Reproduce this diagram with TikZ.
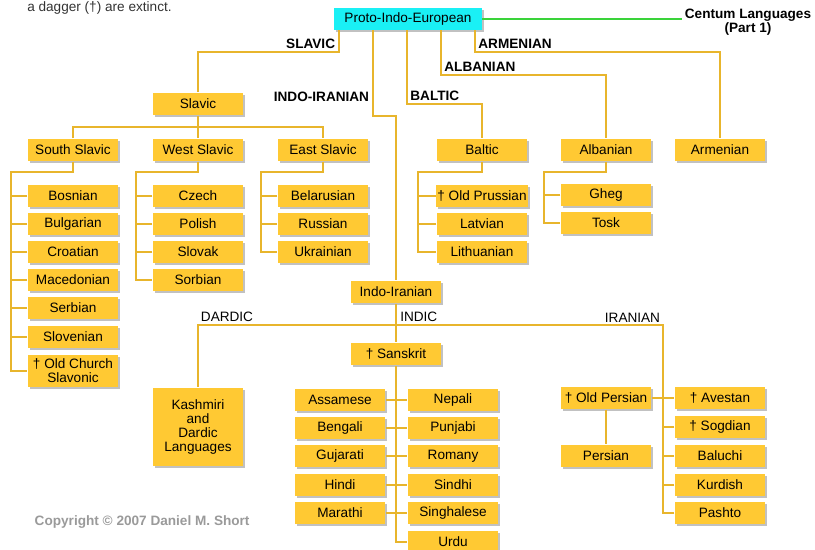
\documentclass[tikz,border=0pt]{standalone}
\usepackage{fontspec}
\setmainfont{Liberation Sans}
\usetikzlibrary{shadows}
\definecolor{boxgold}{HTML}{FFC933}
\definecolor{linegold}{HTML}{E8B52C}
\definecolor{pieblue}{HTML}{1AF0F5}
\definecolor{centumgreen}{HTML}{3AD33A}
\definecolor{copygray}{HTML}{9A9A9A}
\begin{document}
\begin{tikzpicture}[x=0.75pt,y=-0.75pt,
	lang/.style={fill=boxgold,minimum width=68pt,minimum height=17pt,inner sep=1pt,align=center,font=\fontsize{10.2}{10.3}\selectfont,drop shadow={shadow xshift=1.5pt,shadow yshift=-1.5pt,fill=black!35,opacity=0.7}},
	branch/.style={draw=linegold,line width=1.5pt},
	grp/.style={font=\bfseries\fontsize{10.2}{12}\selectfont,inner sep=2pt},
	sub/.style={font=\fontsize{10.2}{12}\selectfont,inner sep=2pt}]
	\useasboundingbox (0,0) rectangle (815,550);
	\node[anchor=base west,inner sep=0,text=black!80,font=\fontsize{10.2}{12}\selectfont] (note) at (27,11) {a dagger (†) are extinct.};
	\node[lang,fill=pieblue,minimum width=111pt,minimum height=16.5pt] (pie) at (408,19) {Proto-Indo-European};
	\node[grp,align=center,font=\bfseries\fontsize{10.2}{10}\selectfont] (centum) at (748,22) {Centum Languages\\(Part 1)};
	\draw[draw=centumgreen,line width=1.5pt] (pie.east) -- (pie.east -| centum.west);
	\node[lang] (slavic) at (198,104) {Slavic};
	\node[lang] (southslavic) at (73,150) {South Slavic};
	\node[lang] (westslavic) at (198,150) {West Slavic};
	\node[lang] (eastslavic) at (323,150) {East Slavic};
	\node[lang] (baltic) at (482,150) {Baltic};
	\node[lang] (albanian) at (606,150) {Albanian};
	\node[lang] (armenian) at (720,150) {Armenian};
	\node[lang] (bosnian) at (73,196) {Bosnian};
	\node[lang] (bulgarian) at (73,224) {Bulgarian};
	\node[lang] (croatian) at (73,252) {Croatian};
	\node[lang] (macedonian) at (73,280) {Macedonian};
	\node[lang] (serbian) at (73,308) {Serbian};
	\node[lang] (slovenian) at (73,337) {Slovenian};
	\node[lang,minimum height=24pt] (ocs) at (73,371) {† Old Church\\Slavonic};
	\node[lang] (czech) at (198,196) {Czech};
	\node[lang] (polish) at (198,224) {Polish};
	\node[lang] (slovak) at (198,252) {Slovak};
	\node[lang] (sorbian) at (198,280) {Sorbian};
	\node[lang] (belarusian) at (323,196) {Belarusian};
	\node[lang] (russian) at (323,224) {Russian};
	\node[lang] (ukrainian) at (323,252) {Ukrainian};
	\node[lang] (oldprussian) at (482,196) {† Old Prussian};
	\node[lang] (latvian) at (482,224) {Latvian};
	\node[lang] (lithuanian) at (482,252) {Lithuanian};
	\node[lang] (gheg) at (606,195) {Gheg};
	\node[lang] (tosk) at (606,223) {Tosk};
	\node[lang] (indoiran) at (396,292) {Indo-Iranian};
	\node[lang] (sanskrit) at (396,354) {† Sanskrit};
	\node[lang,minimum height=59pt] (kashmiri) at (198,427) {Kashmiri\\and\\Dardic\\Languages};
	\node[lang] (assamese) at (340,400) {Assamese};
	\node[lang] (bengali) at (340,428) {Bengali};
	\node[lang] (gujarati) at (340,456) {Gujarati};
	\node[lang] (hindi) at (340,485) {Hindi};
	\node[lang] (marathi) at (340,513) {Marathi};
	\node[lang] (nepali) at (453,400) {Nepali};
	\node[lang] (punjabi) at (453,428) {Punjabi};
	\node[lang] (romany) at (453,456) {Romany};
	\node[lang] (sindhi) at (453,485) {Sindhi};
	\node[lang] (singhalese) at (453,513) {Singhalese};
	\node[lang] (urdu) at (453,542) {Urdu};
	\node[lang] (oldpersian) at (606,398) {† Old Persian};
	\node[lang] (persian) at (606,456) {Persian};
	\node[lang] (avestan) at (720,398) {† Avestan};
	\node[lang] (sogdian) at (720,427) {† Sogdian};
	\node[lang] (baluchi) at (720,456) {Baluchi};
	\node[lang] (kurdish) at (720,485) {Kurdish};
	\node[lang] (pashto) at (720,513) {Pashto};
	\node[anchor=west,text=copygray,font=\bfseries\fontsize{10.2}{12}\selectfont] (copyright) at (30,522) {Copyright © 2007 Daniel M. Short};
	\draw[branch] (pie.south west) ++(5,0) -- ++(0,22) node[grp,anchor=south east] (lslavic) {SLAVIC} -| (slavic.north);
	\draw[branch] (pie.south west) ++(39,0) -- ++(0,86) node[grp,pos=0.77,anchor=east] (liir) {INDO-IRANIAN} -| (indoiran.north);
	\draw[branch] (pie.south west) ++(73,0) -- ++(0,74) node[grp,pos=0.89,anchor=west] (lbaltic) {BALTIC} -| (baltic.north);
	\draw[branch] (pie.south west) ++(107,0) -- ++(0,45) node[grp,anchor=south west] (lalbanian) {ALBANIAN} -| (albanian.north);
	\draw[branch] (pie.south west) ++(141,0) -- ++(0,22) node[grp,anchor=south west] (larmenian) {ARMENIAN} -| (armenian.north);
	\coordinate (sstrunk) at (11,172);
	\coordinate (wstrunk) at (136,172);
	\coordinate (estrunk) at (261,172);
	\coordinate (bttrunk) at (418,172);
	\coordinate (altrunk) at (544,172);
	\coordinate (split) at (396,325);
	\coordinate (irtrunk) at (663,325);
	\draw[branch] (slavic.south) -- (westslavic.north);
	\draw[branch] (southslavic.north) -- ++(0,-11) -| (eastslavic.north);
	\draw[branch] (southslavic.south) |- (sstrunk) |- (ocs.west);
	\draw[branch] (bosnian.west) -- (bosnian.west -| sstrunk);
	\draw[branch] (bulgarian.west) -- (bulgarian.west -| sstrunk);
	\draw[branch] (croatian.west) -- (croatian.west -| sstrunk);
	\draw[branch] (macedonian.west) -- (macedonian.west -| sstrunk);
	\draw[branch] (serbian.west) -- (serbian.west -| sstrunk);
	\draw[branch] (slovenian.west) -- (slovenian.west -| sstrunk);
	\draw[branch] (westslavic.south) |- (wstrunk) |- (sorbian.west);
	\draw[branch] (czech.west) -- (czech.west -| wstrunk);
	\draw[branch] (polish.west) -- (polish.west -| wstrunk);
	\draw[branch] (slovak.west) -- (slovak.west -| wstrunk);
	\draw[branch] (eastslavic.south) |- (estrunk) |- (ukrainian.west);
	\draw[branch] (belarusian.west) -- (belarusian.west -| estrunk);
	\draw[branch] (russian.west) -- (russian.west -| estrunk);
	\draw[branch] (baltic.south) |- (bttrunk) |- (lithuanian.west);
	\draw[branch] (oldprussian.west) -- (oldprussian.west -| bttrunk);
	\draw[branch] (latvian.west) -- (latvian.west -| bttrunk);
	\draw[branch] (albanian.south) |- (altrunk) |- (tosk.west);
	\draw[branch] (gheg.west) -- (gheg.west -| altrunk);
	\draw[branch] (indoiran.south) -- (sanskrit.north);
	\draw[branch] (pashto.west) -| (irtrunk) -| (kashmiri.north);
	\node[sub,anchor=south west] (ldardic) at (kashmiri.north |- split) {DARDIC};
	\node[sub,anchor=south west,inner xsep=3pt] (lindic) at (split) {INDIC};
	\node[sub,anchor=south east] (liranian) at (irtrunk) {IRANIAN};
	\draw[branch] (sanskrit.south) |- (urdu.west);
	\draw[branch] (assamese.east) -- (nepali.west);
	\draw[branch] (bengali.east) -- (punjabi.west);
	\draw[branch] (gujarati.east) -- (romany.west);
	\draw[branch] (hindi.east) -- (sindhi.west);
	\draw[branch] (marathi.east) -- (singhalese.west);
	\draw[branch] (oldpersian.east) -- (avestan.west);
	\draw[branch] (oldpersian.south) -- (persian.north);
	\draw[branch] (sogdian.west) -- (sogdian.west -| irtrunk);
	\draw[branch] (baluchi.west) -- (baluchi.west -| irtrunk);
	\draw[branch] (kurdish.west) -- (kurdish.west -| irtrunk);
\end{tikzpicture}
\end{document}
